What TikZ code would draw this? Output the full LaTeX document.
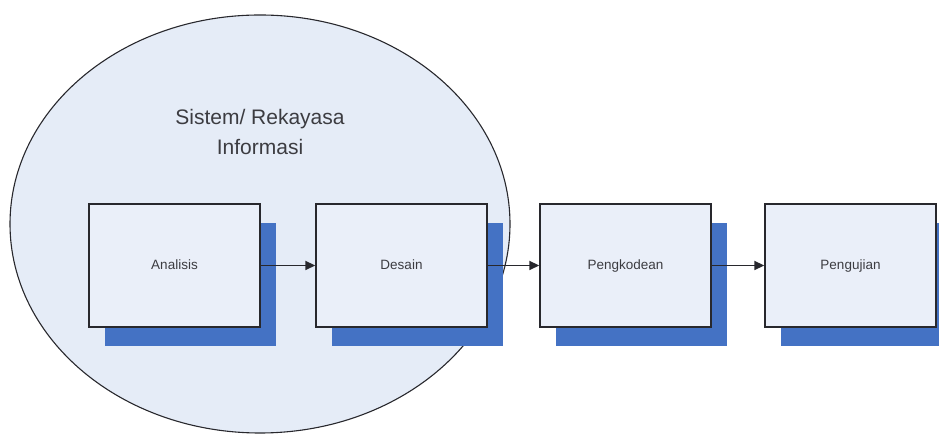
\documentclass[tikz,border=0pt]{standalone}
\usepackage{fontspec}
\setmainfont{Liberation Sans}
\usetikzlibrary{arrows.meta,shadows}
\definecolor{isiElips}{RGB}{229,236,247}
\definecolor{isiKotak}{RGB}{234,239,249}
\definecolor{bayangan}{RGB}{68,114,196}
\definecolor{garis}{RGB}{40,40,45}
\definecolor{teks}{RGB}{60,60,65}

\begin{document}
\begin{tikzpicture}[x=1pt,y=1pt,
  tahap/.style={draw=garis,line width=1.4pt,fill=isiKotak,minimum width=171pt,minimum height=123pt,
    text=teks,font=\fontsize{13.5}{16}\selectfont,text height=11pt,text depth=2pt,
    drop shadow={shadow xshift=16pt,shadow yshift=-19pt,fill=bayangan,opacity=1}},
  panah/.style={draw=garis,line width=1.7pt,-{Triangle[length=10pt,width=9pt]}}]
  \useasboundingbox (0,0) rectangle (939,435);
  %% lingkup sistem
  \draw[garis,line width=1.1pt,fill=isiElips] (260,211) ellipse [x radius=250,y radius=209];
  \node[align=center,text=teks,font=\fontsize{21}{30}\selectfont] (judul) at (260,303) {Sistem/ Rekayasa\\Informasi};
  \foreach \x/\nama [count=\ind] in {174.5/Analisis,401.5/Desain,625.5/Pengkodean,850.5/Pengujian}{% tahapan
    \node[tahap] (Tahap-\ind) at (\x,169.5) {\nama};
  }
  \foreach \a/\b in {1/2,2/3,3/4}
    \draw[panah] (Tahap-\a) -- (Tahap-\b);
\end{tikzpicture}
\end{document}
